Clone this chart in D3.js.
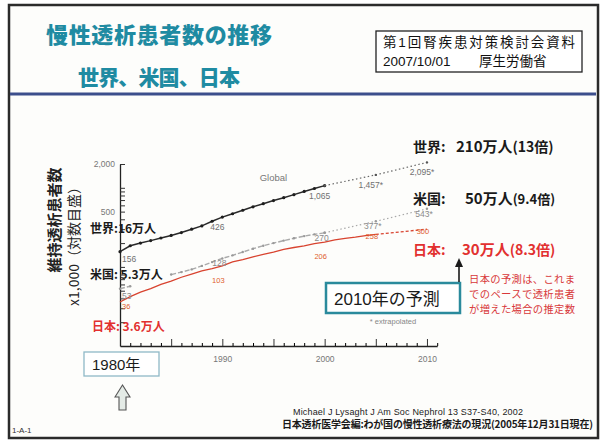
<!DOCTYPE html>
<html>
<head>
<meta charset="utf-8">
<script src="https://cdn.jsdelivr.net/npm/d3@7"></script>
<style>
  body { margin: 0; background: #fff; }
  svg { display: block; }
  text { font-family: "Noto Sans CJK JP", "Liberation Sans", sans-serif; }
  .lat { font-family: "Liberation Sans", Arial, sans-serif; }
  .mix { font-family: "Liberation Sans", "Noto Sans CJK JP", sans-serif; }
</style>
</head>
<body>
<svg id="chart" width="604" height="444"></svg>
<script>
// Patients on dialysis, x1,000
var actualYears = [1980, 1981, 1982, 1983, 1984, 1985, 1986, 1987, 1988, 1989, 1990,
                   1991, 1992, 1993, 1994, 1995, 1996, 1997, 1998, 1999, 2000];
var globalActual = [156, 185, 200, 215, 232, 250, 272, 300, 330, 378, 426,
                    470, 520, 575, 630, 690, 750, 820, 900, 980, 1065];
// the US curve has a gap in the early eighties
var usActual = [53, 57, null, null, null, 80, 86, 93, 103, 115, 128,
                140, 154, 170, 185, 200, 215, 230, 245, 258, 270];
var japanYears = [1980, 1981, 1982, 1983, 1984, 1985, 1986, 1987, 1988, 1989, 1990,
                  1991, 1992, 1993, 1994, 1995, 1996, 1997, 1998, 1999, 2000,
                  2001, 2002, 2003, 2004, 2005];
var japanActual = [36, 42, 48, 53, 60, 66, 74, 81, 89, 95, 103,
                   116, 124, 134, 144, 154, 167, 176, 185, 197, 206,
                   219, 230, 238, 248, 258];

// extrapolated to 2010
var extraYears = [2000, 2005, 2010];
var globalExtra = [1065, 1457, 2095];
var usExtra = [270, 377, 543];
var japanExtraYears = [2005, 2010];
var japanExtra = [258, 300];

// labelled points
var labelYears = [1980, 1990, 2000, 2005, 2010];
var globalLabelValues = [156, 426, 1065, 1457, 2095];
var globalLabelText = ["156", "426", "1,065", "1,457*", "2,095*"];
var usLabelValues = [53, 128, 270, 377, 543];
var usLabelText = ["53", "128", "270", "377*", "543*"];
var japanLabelValues = [36, 103, 206, 258, 300];
var japanLabelText = ["36", "103", "206", "258", "300"];

// axes
var majorYears = [1980, 1985, 1990, 1995, 2000, 2005, 2010];
var minorYears = [1981, 1982, 1983, 1984, 1986, 1987, 1988, 1989, 1991, 1992, 1993, 1994,
                  1996, 1997, 1998, 1999, 2001, 2002, 2003, 2004, 2006, 2007, 2008, 2009, 2011];
var labelledYears = [1990, 2000, 2010];
var yTicks = [20, 30, 40, 50, 60, 70, 80, 90, 100, 200, 300, 400, 500,
              600, 700, 800, 900, 1000, 2000];
var yTickText = { 2000: "2,000", 500: "500" };

var svg = d3.select("#chart");

// The slide frame:
svg.append("rect")
  .attr("x", 9).attr("y", 5).attr("width", 589).attr("height", 433)
  .attr("fill", "#fdfdfb").attr("stroke", "#2b2b2b").attr("stroke-width", 2.5);

// Title
var teal = "#1f8ba2";
svg.append("text").text("慢性透析患者数の推移")
  .attr("x", 46).attr("y", 43).attr("textLength", 226)
  .style("font-size", "22px").style("font-weight", 900).attr("fill", teal);
svg.append("text").text("世界、米国、日本")
  .attr("x", 78).attr("y", 85).attr("textLength", 162)
  .style("font-size", "21px").style("font-weight", 900).attr("fill", teal);

// Source box at the top right
svg.append("rect")
  .attr("x", 376).attr("y", 31).attr("width", 206).attr("height", 41)
  .attr("fill", "#fff").attr("stroke", "#222").attr("stroke-width", 1.3);
svg.append("text").attr("class", "mix").text("第1回腎疾患対策検討会資料")
  .attr("x", 383).attr("y", 47).attr("textLength", 192)
  .style("font-size", "13.5px").attr("fill", "#111");
svg.append("text").attr("class", "lat").text("2007/10/01")
  .attr("x", 383).attr("y", 66)
  .style("font-size", "13.5px").attr("fill", "#111");
svg.append("text").text("厚生労働省")
  .attr("x", 479).attr("y", 66)
  .style("font-size", "13.5px").attr("fill", "#111");

// Blue rule under the title
svg.append("line")
  .attr("x1", 10).attr("x2", 596).attr("y1", 94).attr("y2", 94)
  .attr("stroke", "#3c4e8c").attr("stroke-width", 3);

// Scales
var x = d3.scaleLinear().domain([1980, 2011]).range([120, 437.2]);
var y = d3.scaleLog().domain([10, 2000]).range([346, 164]);

// X axis: ticks point up into the plot
var xAxis = svg.append("g")
  .attr("transform", "translate(0,346)")
  .call(d3.axisBottom(x).tickValues(majorYears).tickSize(-7).tickSizeOuter(0).tickPadding(10)
    .tickFormat(function(d) { return labelledYears.indexOf(d) >= 0 ? d : ""; }));
svg.append("g")
  .attr("transform", "translate(0,346)")
  .call(d3.axisBottom(x).tickValues(minorYears).tickSize(-3).tickSizeOuter(0)
    .tickFormat(""))
  .select(".domain").remove();

// Y axis (log scale), ticks point right
var yAxis = svg.append("g")
  .attr("transform", "translate(120,0)")
  .call(d3.axisLeft(y).tickValues(yTicks).tickSize(-5).tickSizeOuter(0).tickPadding(5)
    .tickFormat(function(d) { return yTickText[d] || ""; }));

[xAxis, yAxis].forEach(function(g) {
  g.select(".domain").attr("stroke", "#222").attr("stroke-width", 1.3);
  g.selectAll(".tick line").attr("stroke", "#333");
  g.selectAll(".tick text").attr("class", "lat").attr("fill", "#777").style("font-size", "8.5px");
});
// drop the empty tick texts
svg.selectAll(".tick text").filter(function() { return this.textContent === ""; }).remove();

// Y axis title (rotated)
svg.append("text").text("維持透析患者数")
  .attr("transform", "translate(60,220) rotate(-90)")
  .attr("text-anchor", "middle")
  .style("font-size", "15px").style("font-weight", 700).attr("fill", "#222");
svg.append("text").text("x1,000（対数目盛）")
  .attr("transform", "translate(79,243) rotate(-90)")
  .attr("text-anchor", "middle")
  .style("font-size", "14px").attr("fill", "#222");

// Helpers to zip years and values
function zip(years, values) {
  return years.map(function(yr, i) { return { year: yr, value: values[i] }; });
}
var line = d3.line()
  .defined(function(d) { return d.value != null; })
  .x(function(d) { return x(d.year); })
  .y(function(d) { return y(d.value); });

function drawSeries(data, color, width, dash) {
  svg.append("path")
    .datum(data)
    .attr("d", line)
    .attr("fill", "none")
    .attr("stroke", color)
    .attr("stroke-width", width)
    .attr("stroke-dasharray", dash || null);
}
function drawDots(data, color, r) {
  svg.append("g").selectAll("circle")
    .data(data.filter(function(d) { return d.value != null; }))
    .enter().append("circle")
    .attr("cx", function(d) { return x(d.year); })
    .attr("cy", function(d) { return y(d.value); })
    .attr("r", r)
    .attr("fill", color);
}

// US (grey, dashed)
drawSeries(zip(actualYears, usActual), "#a9a9a9", 1.4, "5,2");
drawDots(zip(actualYears, usActual), "#9a9a9a", 1.2);
drawSeries(zip(extraYears, usExtra), "#a9a9a9", 1.2, "1.5,2.5");
drawDots(zip(extraYears, usExtra), "#9a9a9a", 1.2);

// Japan (red)
drawSeries(zip(japanYears, japanActual), "#d8432f", 1.3);
drawSeries(zip(japanExtraYears, japanExtra), "#d8432f", 1.3, "3,2");

// Global (black, with yearly markers)
drawSeries(zip(actualYears, globalActual), "#2a2a2a", 1.5);
drawDots(zip(actualYears, globalActual), "#1e1e1e", 1.6);
drawSeries(zip(extraYears, globalExtra), "#666", 1.2, "1.5,2.5");
drawDots(zip(extraYears, globalExtra), "#555", 1.2);

// Point labels: the 1980 one sits just right of the axis,
// labels after 2000 get their own offset (lateDy)
function drawLabels(values, texts, color, size, dx, dy, firstDy, lateDy) {
  svg.append("g").selectAll("text")
    .data(labelYears.map(function(yr, i) { return { year: yr, value: values[i], text: texts[i] }; }))
    .enter().append("text")
    .attr("class", "lat")
    .text(function(d) { return d.text; })
    .attr("x", function(d, i) { return x(d.year) + (i === 0 ? 2 : dx); })
    .attr("y", function(d, i) {
      var off = i === 0 ? firstDy : (d.year > 2000 ? lateDy : dy);
      return y(d.value) + off;
    })
    .attr("text-anchor", function(d, i) { return i === 0 ? "start" : "middle"; })
    .style("font-size", size)
    .attr("fill", color);
}
drawLabels(globalLabelValues, globalLabelText, "#707070", "8.5px", -5, 13, 10, 13);
drawLabels(usLabelValues, usLabelText, "#8a8a8a", "8.5px", -3, 8, 10, 8);
drawLabels(japanLabelValues, japanLabelText, "#e0602e", "7.5px", -4, 17, 7, 5);

svg.append("text").attr("class", "lat").text("Global")
  .attr("x", x(1995)).attr("y", y(globalActual[actualYears.indexOf(1995)]) - 20)
  .attr("text-anchor", "middle")
  .style("font-size", "9.5px").attr("fill", "#777");

svg.append("text").attr("class", "lat").text("* extrapolated")
  .attr("x", 393).attr("y", 324).attr("text-anchor", "middle")
  .style("font-size", "7.5px").attr("fill", "#888");

// Start values (1980), on the left
var red = "#e2302f";
svg.append("text").text("世界:16万人")
  .attr("x", 90).attr("y", 233)
  .style("font-size", "12px").style("font-weight", 700).attr("fill", "#1a1a1a");
svg.append("text").text("米国: 5.3万人")
  .attr("x", 90).attr("y", 279)
  .style("font-size", "12px").style("font-weight", 700).attr("fill", "#1a1a1a");
svg.append("text").text("日本: 3.6万人")
  .attr("x", 92).attr("y", 331)
  .style("font-size", "12px").style("font-weight", 700).attr("fill", red);

// 2010 values, on the right
function rightLabel(yPos, head, big, small, smallSize, xBig, color) {
  var t = svg.append("text").attr("y", yPos).style("font-weight", 700).attr("fill", color);
  t.append("tspan").attr("x", 413).style("font-size", "14px").text(head);
  t.append("tspan").attr("x", xBig).style("font-size", "15px").text(big);
  t.append("tspan").style("font-size", smallSize).text(small);
}
rightLabel(152, "世界:", "210万人", "(13倍)", "14px", 456, "#1a1a1a");
rightLabel(204, "米国:", "50万人", "(9.4倍)", "13px", 465, "#1a1a1a");
rightLabel(255, "日本:", "30万人", "(8.3倍)", "14px", 462, red);

// "2010年の予測" box and arrow
svg.append("rect")
  .attr("x", 326).attr("y", 283).attr("width", 134).attr("height", 30)
  .attr("fill", "#fff").attr("stroke", "#2a8a9c").attr("stroke-width", 2.5);
svg.append("text").attr("class", "mix").text("2010年の予測")
  .attr("x", 334).attr("y", 305)
  .style("font-size", "17px").attr("fill", "#1a1a1a");
svg.append("line")
  .attr("x1", 459).attr("x2", 459).attr("y1", 282).attr("y2", 265)
  .attr("stroke", "#1a1a1a").attr("stroke-width", 1.6);
svg.append("path")
  .attr("d", "M455,267 L459,258 L463,267 Z")
  .attr("fill", "#1a1a1a");

// Red note
["日本の予測は、これま", "でのペースで透析患者", "が増えた場合の推定数"].forEach(function(s, i) {
  svg.append("text").text(s)
    .attr("x", 469).attr("y", 283 + i * 15)
    .attr("textLength", 106)
    .style("font-size", "10.3px").attr("fill", "#d8383a");
});

// "1980年" box and hollow arrow
svg.append("rect")
  .attr("x", 84).attr("y", 352).attr("width", 75).attr("height", 24)
  .attr("fill", "#fff").attr("stroke", "#8fb9c7").attr("stroke-width", 1.3);
svg.append("text").attr("class", "mix").text("1980年")
  .attr("x", 92).attr("y", 370)
  .style("font-size", "15px").attr("fill", "#1a1a1a");
svg.append("path")
  .attr("d", "M115,397 L122.5,385 L130,397 L126,397 L126,410 L119,410 L119,397 Z")
  .attr("fill", "#e4ebe6").attr("stroke", "#555").attr("stroke-width", 1.1);

// Sources
svg.append("text").attr("class", "lat")
  .text("Michael J  Lysaght J Am Soc Nephrol 13 S37-S40, 2002")
  .attr("x", 293).attr("y", 415).attr("textLength", 230)
  .style("font-size", "9px").attr("fill", "#222");
svg.append("text")
  .text("日本透析医学会編:わが国の慢性透析療法の現況(2005年12月31日現在)")
  .attr("x", 282).attr("y", 428).attr("textLength", 311)
  .style("font-size", "10px").style("font-weight", 700).attr("fill", "#1a1a1a");

svg.append("text").attr("class", "lat").text("1-A-1")
  .attr("x", 12).attr("y", 433)
  .style("font-size", "8px").attr("fill", "#333");
</script>
</body>
</html>
